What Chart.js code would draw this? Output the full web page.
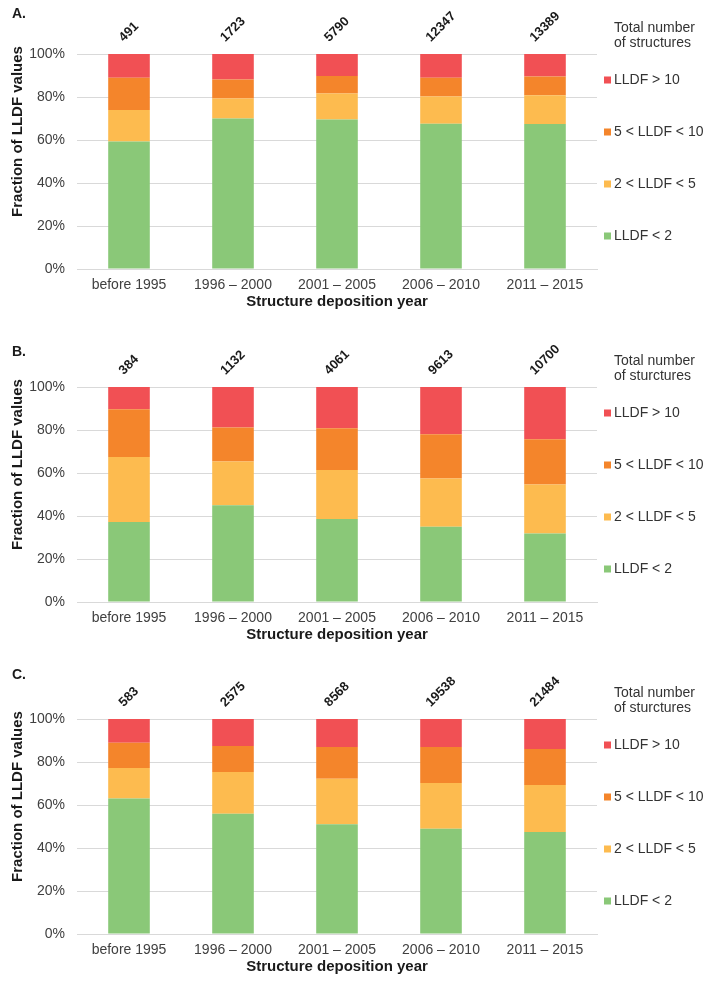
<!DOCTYPE html>
<html><head><meta charset="utf-8">
<script src="https://cdn.jsdelivr.net/npm/chart.js@4.4.1/dist/chart.umd.min.js"></script>
<style>
html,body{margin:0;padding:0;background:#fff;width:714px;height:986px;overflow:hidden}
.panel{position:absolute;left:0;width:714px}
</style></head><body>
<div class="panel" style="top:0;height:333px"><canvas id="cA"></canvas></div>
<div class="panel" style="top:333px;height:332px"><canvas id="cB"></canvas></div>
<div class="panel" style="top:665px;height:321px"><canvas id="cC"></canvas></div>
<script>
// ---- data ----
const categories = ['before 1995', '1996 \u2013 2000', '2001 \u2013 2005', '2006 \u2013 2010', '2011 \u2013 2015'];
const seriesLabels = ['LLDF < 2', '2 < LLDF < 5', '5 < LLDF < 10', 'LLDF > 10'];
const yTickValues = [0, 20, 40, 60, 80, 100];

// Panel A
const totalsA = [491, 1723, 5790, 12347, 13389];
const lt2A = [59.3, 70.0, 69.5, 67.6, 67.5];
const r2to5A = [14.7, 9.3, 12.1, 12.6, 13.3];
const r5to10A = [15.0, 8.8, 8.2, 8.7, 8.7];
const gt10A = [11.0, 11.9, 10.2, 11.1, 10.5];

// Panel B
const totalsB = [384, 1132, 4061, 9613, 10700];
const lt2B = [37.2, 45.0, 38.6, 35.0, 31.9];
const r2to5B = [30.2, 20.3, 22.8, 22.5, 22.7];
const r5to10B = [22.2, 15.9, 19.4, 20.5, 21.1];
const gt10B = [10.4, 18.8, 19.2, 22.0, 24.3];

// Panel C
const totalsC = [583, 2575, 8568, 19538, 21484];
const lt2C = [63.0, 55.9, 51.1, 48.9, 47.5];
const r2to5C = [14.2, 19.4, 21.1, 21.3, 21.8];
const r5to10C = [11.8, 12.1, 14.8, 16.8, 16.7];
const gt10C = [11.0, 12.6, 13.0, 13.0, 14.0];

// ---- styling ----
const colors = ['#8AC878', '#FDBB4F', '#F4852B', '#F15054'];
const FONT = '"Liberation Sans", Arial, Helvetica, sans-serif';
Chart.defaults.font.family = FONT;

function overlay(letter, totals, letterDy, legendTitle) {
  return {
    id: 'overlay' + letter,
    afterDraw(chart) {
      const ctx = chart.ctx, a = chart.chartArea, xs = chart.scales.x;
      ctx.save();
      // panel letter
      ctx.fillStyle = '#1a1a1a';
      ctx.font = 'bold 14px ' + FONT;
      ctx.textAlign = 'left'; ctx.textBaseline = 'middle';
      ctx.fillText(letter + '.', 12, a.top + letterDy);
      // totals above bars
      ctx.font = 'bold 13px ' + FONT;
      totals.forEach((t, i) => {
        const s = String(t);
        const w = ctx.measureText(s).width;
        const half = (w + 15) / (2 * Math.SQRT2);
        const cx = xs.getPixelForValue(i);
        const cy = a.top - 9 - half;
        ctx.save();
        ctx.translate(cx, cy);
        ctx.rotate(-Math.PI / 4);
        ctx.textAlign = 'center'; ctx.textBaseline = 'middle';
        ctx.fillText(s, 0, 0);
        ctx.restore();
      });
      // legend
      ctx.font = '14px ' + FONT;
      ctx.fillStyle = '#333';
      ctx.textAlign = 'left'; ctx.textBaseline = 'middle';
      ctx.fillText(legendTitle[0], 614, a.top - 25.5);
      ctx.fillText(legendTitle[1], 614, a.top - 10.5);
      const offs = [26, 78, 130, 182];
      for (let k = 0; k < 4; k++) {
        const si = 3 - k;
        const y = a.top + offs[k];
        ctx.fillStyle = colors[si];
        ctx.fillRect(604, y - 3.5, 7, 7);
        ctx.fillStyle = '#333';
        ctx.fillText(seriesLabels[si], 614, y);
      }
      // axis titles
      ctx.fillStyle = '#1a1a1a';
      ctx.font = 'bold 15px ' + FONT;
      ctx.textAlign = 'center'; ctx.textBaseline = 'middle';
      ctx.fillText('Structure deposition year', (a.left + a.right) / 2, a.bottom + 33);
      ctx.save();
      ctx.translate(17.5, (a.top + a.bottom) / 2 - 30);
      ctx.rotate(-Math.PI / 2);
      ctx.fillText('Fraction of LLDF values', 0, 0);
      ctx.restore();
      ctx.restore();
    }
  };
}

function makeChart(id, panelH, letter, totals, series, letterDy, legendTitle) {
  new Chart(document.getElementById(id), {
    type: 'bar',
    data: {
      labels: categories,
      datasets: series.map((d, i) => ({
        label: seriesLabels[i],
        data: d,
        backgroundColor: colors[i],
        borderWidth: 0,
        barPercentage: 0.4,
        categoryPercentage: 1.0
      }))
    },
    options: {
      responsive: true,
      maintainAspectRatio: false,
      animation: false,
      layout: { padding: { top: 54, right: 117, left: 0, bottom: 0 } },
      plugins: { legend: { display: false }, tooltip: { enabled: false } },
      scales: {
        x: {
          stacked: true,
          grid: { display: false, drawTicks: false },
          border: { display: true, color: '#D9D9D9', width: 1 },
          ticks: { color: '#404040', font: { size: 14, family: FONT }, padding: 8, maxRotation: 0, autoSkip: false },
          afterFit: s => { s.height = panelH - 269; }
        },
        y: {
          stacked: true,
          min: 0, max: 100,
          afterBuildTicks: s => { s.ticks = yTickValues.map(v => ({ value: v })); },
          grid: { color: '#D9D9D9', lineWidth: 1, drawTicks: false },
          border: { display: false },
          ticks: { color: '#404040', font: { size: 14, family: FONT }, padding: 12, callback: v => v + '%' },
          afterFit: s => { s.width = 77; }
        }
      }
    },
    plugins: [overlay(letter, totals, letterDy, legendTitle)]
  });
}

makeChart('cA', 333, 'A', totalsA, [lt2A, r2to5A, r5to10A, gt10A], -40, ['Total number', 'of structures']);
makeChart('cB', 332, 'B', totalsB, [lt2B, r2to5B, r5to10B, gt10B], -35, ['Total number', 'of sturctures']);
makeChart('cC', 321, 'C', totalsC, [lt2C, r2to5C, r5to10C, gt10C], -44, ['Total number', 'of sturctures']);
</script>
</body></html>
